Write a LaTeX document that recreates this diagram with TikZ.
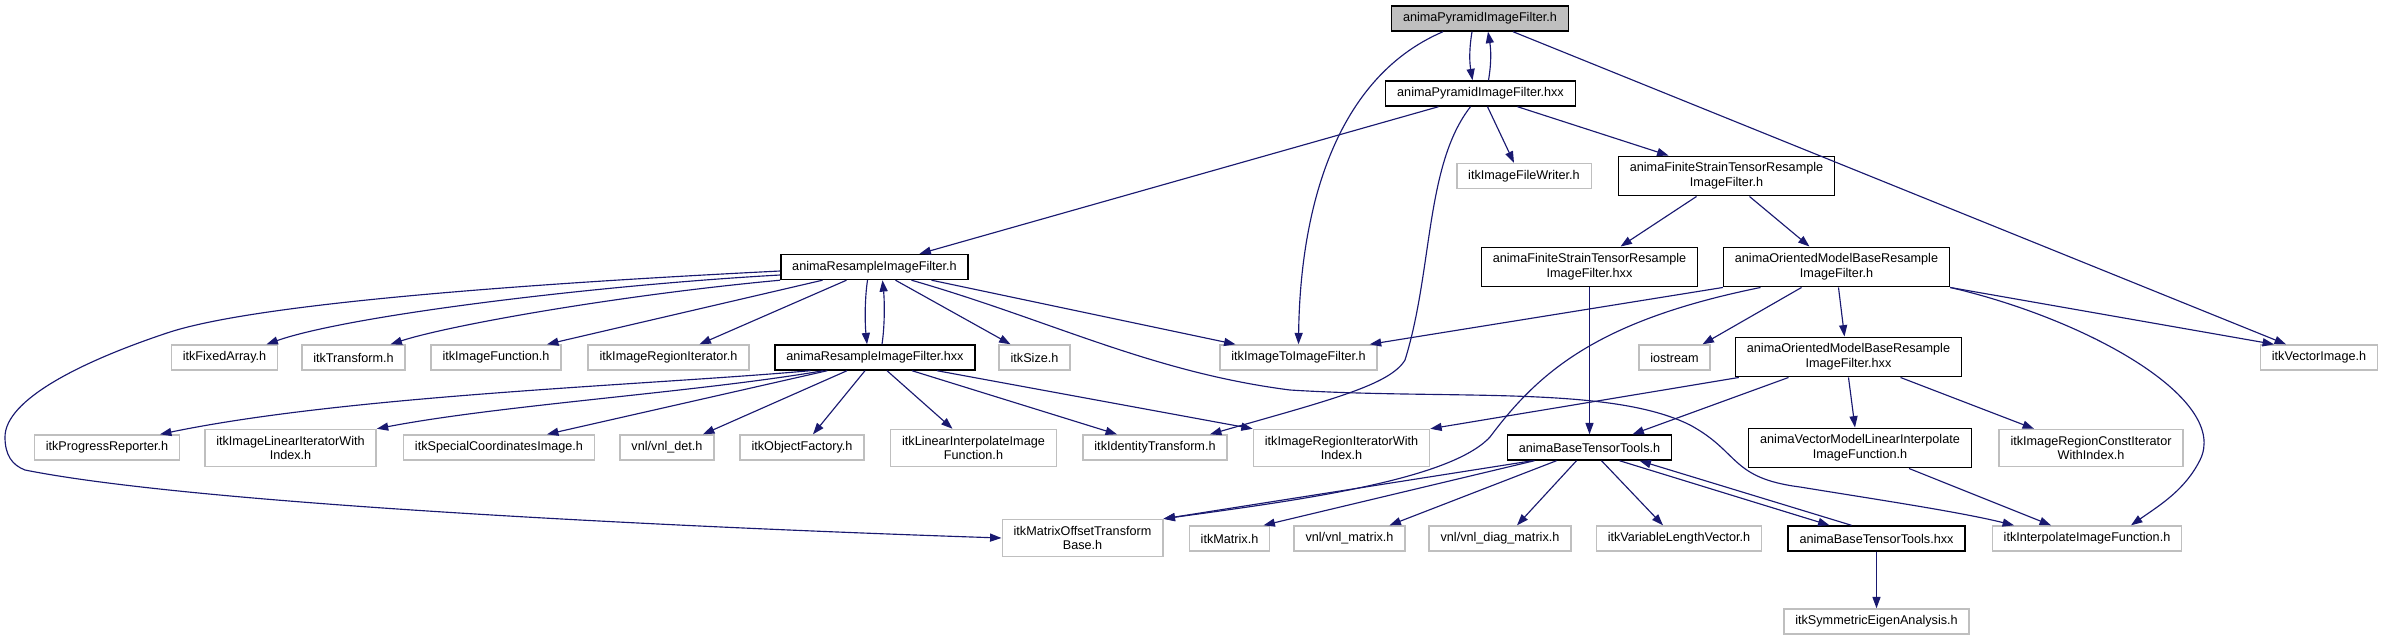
\documentclass[tikz,border=0pt]{standalone}
\usepackage{fontspec}
\setmainfont{Liberation Sans}
\definecolor{edgeblue}{RGB}{25,25,112}
\definecolor{boxgray}{RGB}{191,191,191}
\usepackage{tikz}
\usetikzlibrary{arrows.meta, calc}

\begin{document}
\begin{tikzpicture}[x=0.02cm, y=-0.02cm,
  every node/.style={font=\fontsize{7.2}{8.4}\selectfont, align=center,
    inner xsep=6.5pt, inner ysep=3.7pt, minimum height=0.5cm},
  proj/.style={draw=black, line width=0.8pt, fill=white},
  extern/.style={draw=boxgray, line width=0.8pt, fill=white},
  root/.style={draw=black, line width=0.8pt, fill=boxgray},
  inc/.style={-{Triangle[length=6.5pt,width=4.6pt]}, draw=edgeblue, line width=0.65pt}]
\useasboundingbox (0,0) rectangle (2384,640);

% Top: the graph's own header and its implementation
\node[root] (pyrh) at (1480,18.5) {animaPyramidImageFilter.h};
\node[proj] (pyrhxx) at (1480.5,93.5) {animaPyramidImageFilter.hxx};
\node[extern] (writer) at (1524,176) {itkImageFileWriter.h};
\node[proj] (fsh) at (1726.5,176) {animaFiniteStrainTensorResample\\ImageFilter.h};
% Resample filters
\node[proj] (resh) at (874.5,267) {animaResampleImageFilter.h};
\node[proj] (fshxx) at (1589.5,267) {animaFiniteStrainTensorResample\\ImageFilter.hxx};
\node[proj] (orh) at (1836.5,267) {animaOrientedModelBaseResample\\ImageFilter.h};
% Middle row
\node[extern] (fixed) at (224.5,357.5) {itkFixedArray.h};
\node[extern] (transform) at (353.5,357.5) {itkTransform.h};
\node[extern] (imgfunc) at (496,357.5) {itkImageFunction.h};
\node[extern] (regiter) at (668.5,357.5) {itkImageRegionIterator.h};
\node[proj] (reshxx) at (875,357.5) {animaResampleImageFilter.hxx};
\node[extern] (size) at (1034.5,357.5) {itkSize.h};
\node[extern] (img2img) at (1298.5,357.5) {itkImageToImageFilter.h};
\node[extern] (iostream) at (1674.5,357.5) {iostream};
\node[proj] (orhxx) at (1848.5,357) {animaOrientedModelBaseResample\\ImageFilter.hxx};
\node[extern] (vecimg) at (2319,357.5) {itkVectorImage.h};
% Includes of the resample implementation
\node[extern] (progress) at (107,447.5) {itkProgressReporter.h};
\node[extern] (lineariter) at (290.5,448) {itkImageLinearIteratorWith\\Index.h};
\node[extern] (specialcoord) at (499,447.5) {itkSpecialCoordinatesImage.h};
\node[extern] (vnldet) at (667,447.5) {vnl/vnl\_det.h};
\node[extern] (objfactory) at (802,447.5) {itkObjectFactory.h};
\node[extern] (linearinterp) at (973.5,448) {itkLinearInterpolateImage\\Function.h};
\node[extern] (identity) at (1155,447.5) {itkIdentityTransform.h};
\node[extern] (regiteridx) at (1341.5,448) {itkImageRegionIteratorWith\\Index.h};
\node[proj] (tensorh) at (1589.5,447.5) {animaBaseTensorTools.h};
\node[proj] (vecmodel) at (1860,448) {animaVectorModelLinearInterpolate\\ImageFunction.h};
\node[extern] (constiter) at (2091,448) {itkImageRegionConstIterator\\WithIndex.h};
% Bottom rows
\node[extern] (matoffset) at (1082.5,538) {itkMatrixOffsetTransform\\Base.h};
\node[extern] (matrix) at (1229.5,538.5) {itkMatrix.h};
\node[extern] (vnlmatrix) at (1349.5,538.5) {vnl/vnl\_matrix.h};
\node[extern] (diagmatrix) at (1500,538.5) {vnl/vnl\_diag\_matrix.h};
\node[extern] (varlen) at (1679,538.5) {itkVariableLengthVector.h};
\node[proj] (tensorhxx) at (1876.5,538.5) {animaBaseTensorTools.hxx};
\node[extern] (interp) at (2087,538.5) {itkInterpolateImageFunction.h};
\node[extern] (eigen) at (1876.5,621.5) {itkSymmetricEigenAnalysis.h};

% Pyramid filter
\draw[inc] ($(pyrh.south)+(-8,0)$) .. controls +(-3,18) and +(-3,-18) .. ($(pyrhxx.north)+(-8,0)$);
\draw[inc] ($(pyrhxx.north)+(8,0)$) .. controls +(3,-18) and +(3,18) .. ($(pyrh.south)+(8,0)$);
\draw[inc] ($(pyrh.south)+(-37,0)$) .. controls (1330,80) and (1300,220) .. (img2img.north);
\draw[inc] ($(pyrh.south)+(33,0)$) -- ($(vecimg.north)+(-33,0)$);
\draw[inc] ($(pyrhxx.south)+(-42,0)$) -- ($(resh.north)+(45,0)$);
\draw[inc] ($(pyrhxx.south)+(7,0)$) -- ($(writer.north)+(-10,0)$);
\draw[inc] ($(pyrhxx.south)+(37,0)$) -- ($(fsh.north)+(-58,0)$);
\draw[inc] ($(pyrhxx.south)+(-10,0)$) .. controls (1425,165) and (1433,270) .. (1405,360)
  .. controls (1390,385) and (1330,400) .. ($(identity.north)+(55,0)$);
% Finite strain and oriented model filters
\draw[inc] ($(fsh.south)+(-30,0)$) -- ($(fshxx.north)+(31,0)$);
\draw[inc] ($(fsh.south)+(23,0)$) -- ($(orh.north)+(-27,0)$);
\draw[inc] (fshxx.south) -- (tensorh.north);
\draw[inc] (orh.south west) -- ($(img2img.north east)+(-8,0)$);
\draw[inc] ($(orh.south)+(-35,0)$) -- ($(iostream.north)+(28,0)$);
\draw[inc] ($(orh.south)+(2,0)$) -- ($(orhxx.north)+(-4,0)$);
\draw[inc] (orh.south east) -- ($(vecimg.north)+(-45,0)$);
\draw[inc] (orh.south east) .. controls (2090,320) and (2230,400) .. (2200,460)
  .. controls (2185,490) and (2160,505) .. ($(interp.north)+(44,0)$);
\draw[inc] ($(orh.south)+(-76,0)$) .. controls (1600,320) and (1540,370) .. (1490,437)
  .. controls (1450,480) and (1300,500) .. (matoffset.north east);
\draw[inc] ($(orhxx.south west)+(4,0)$) -- (regiteridx.north east);
\draw[inc] ($(orhxx.south)+(-60,0)$) -- ($(tensorh.north)+(43,0)$);
\draw[inc] (orhxx.south) -- ($(vecmodel.north)+(-5,0)$);
\draw[inc] ($(orhxx.south)+(52,0)$) -- ($(constiter.north)+(-57,0)$);
\draw[inc] ($(vecmodel.south)+(49,0)$) -- ($(interp.north)+(-36,0)$);
% Resample filter header
\draw[inc] ($(resh.west)+(0,4)$) .. controls (500,285) and (250,305) .. (167,333)
  .. controls (80,362) and (5,400) .. (5,437) .. controls (5,455) and (12,465) .. (25,470)
  .. controls (200,505) and (700,528) .. (matoffset.west);
\draw[inc] ($(resh.west)+(0,8)$) .. controls (600,285) and (350,315) .. ($(fixed.north)+(42,0)$);
\draw[inc] (resh.south west) .. controls (620,295) and (450,325) .. ($(transform.north)+(37,0)$);
\draw[inc] ($(resh.south)+(-52,0)$) -- ($(imgfunc.north)+(51,0)$);
\draw[inc] ($(resh.south)+(-28,0)$) -- ($(regiter.north)+(31,0)$);
\draw[inc] ($(resh.south)+(-7,0)$) .. controls +(-3,20) and +(-2,-20) .. ($(reshxx.north)+(-8,0)$);
\draw[inc] ($(reshxx.north)+(7,0)$) .. controls +(3,-20) and +(2,20) .. ($(resh.south)+(8,0)$);
\draw[inc] ($(resh.south)+(21,0)$) -- ($(size.north)+(-24,0)$);
\draw[inc] ($(resh.south)+(57,0)$) -- ($(img2img.north)+(-63,0)$);
\draw[inc] ($(resh.south)+(37,0)$) .. controls (1050,320) and (1150,372) .. (1290,390)
  .. controls (1450,400) and (1610,385) .. (1690,425)
  .. controls (1740,452) and (1730,478) .. (1800,487)
  .. controls (1880,500) and (1960,512) .. ($(interp.north)+(-73,0)$);
% Resample filter implementation
\draw[inc] ($(reshxx.south west)+(36,0)$) .. controls (650,385) and (350,395) .. ($(progress.north)+(53,0)$);
\draw[inc] ($(reshxx.south west)+(49,0)$) .. controls (700,392) and (500,405) .. (lineariter.north east);
\draw[inc] ($(reshxx.south west)+(53,0)$) -- ($(specialcoord.north)+(48,0)$);
\draw[inc] ($(reshxx.south)+(-28,0)$) -- ($(vnldet.north)+(36,0)$);
\draw[inc] ($(reshxx.south)+(-10,0)$) -- ($(objfactory.north)+(11,0)$);
\draw[inc] ($(reshxx.south)+(12,0)$) -- ($(linearinterp.north)+(-21,0)$);
\draw[inc] ($(reshxx.south)+(37,0)$) -- ($(identity.north)+(-38,0)$);
\draw[inc] ($(reshxx.south)+(62,0)$) -- (regiteridx.north west);
% Tensor tools
\draw[inc] ($(tensorh.south)+(-57,0)$) -- (matoffset.north east);
\draw[inc] ($(tensorh.south)+(-55,0)$) -- ($(matrix.north)+(34,0)$);
\draw[inc] ($(tensorh.south)+(-33,0)$) -- ($(vnlmatrix.north)+(40,0)$);
\draw[inc] ($(tensorh.south)+(-13,0)$) -- ($(diagmatrix.north)+(17,0)$);
\draw[inc] ($(tensorh.south)+(12,0)$) -- ($(varlen.north)+(-16,0)$);
\draw[inc] ($(tensorh.south)+(30,0)$) -- ($(tensorhxx.north)+(-47,0)$);
\draw[inc] ($(tensorhxx.north)+(-25,0)$) -- ($(tensorh.south)+(50,0)$);
\draw[inc] (tensorhxx.south) -- (eigen.north);
\end{tikzpicture}
\end{document}
